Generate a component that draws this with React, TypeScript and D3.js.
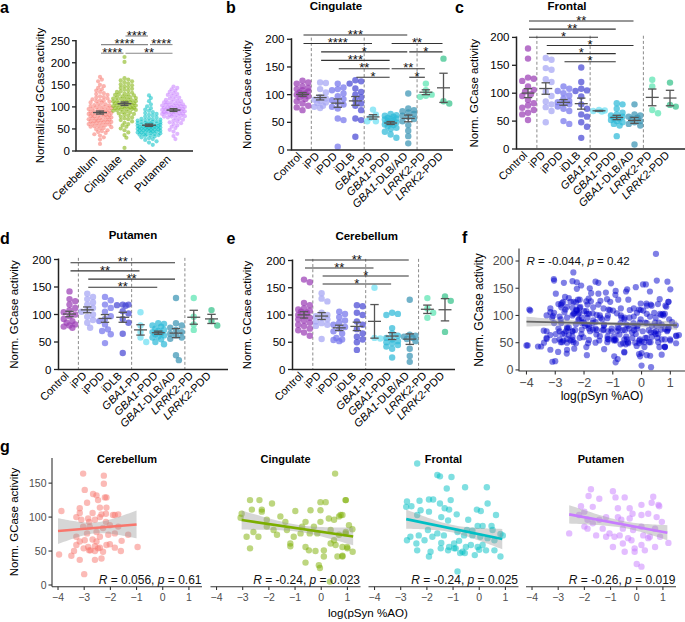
import React from 'react';
import * as d3 from 'd3';

const FONT = "'Liberation Sans', Arial, Helvetica, sans-serif";

/* ================= panel a data ================= */
const regionNames = ['Cerebellum', 'Cingulate', 'Frontal', 'Putamen'];
const regionColors = ['#F8766D', '#7CAE00', '#00BFC4', '#C77CFF'];
const aCerebellum = [168, 162, 158, 150, 147, 143, 140, 137, 134, 131, 129, 127, 124, 122, 121, 119, 117, 115, 114, 112, 110, 109, 107, 106, 104, 103, 101, 100, 99, 97, 96, 95, 94, 92, 91, 90, 89, 88, 87, 86, 85, 84, 83, 82, 81, 80, 79, 78, 77, 76, 75, 74, 73, 72, 71, 70, 69, 68, 67, 66, 65, 64, 63, 62, 61, 60, 59, 58, 56, 55, 54, 52, 51, 49, 47, 45, 43, 41, 38, 35, 31, 26, 16, 88, 93, 79, 84, 71, 98, 102, 66, 57, 113];
const aCingulate = [213, 202, 165, 162, 160, 158, 156, 153, 151, 149, 147, 145, 143, 141, 139, 137, 135, 134, 132, 130, 129, 127, 126, 124, 123, 121, 120, 119, 118, 116, 115, 114, 113, 112, 111, 110, 109, 108, 107, 106, 105, 104, 103, 102, 101, 100, 99, 98, 97, 96, 95, 94, 93, 92, 91, 89, 88, 87, 85, 84, 82, 80, 78, 76, 74, 72, 70, 67, 64, 61, 58, 55, 51, 47, 42, 36, 30, 7, 111, 117, 103, 108, 98, 122, 128, 95];
const aFrontal = [126, 120, 113, 106, 101, 97, 94, 91, 88, 86, 84, 82, 80, 78, 76, 74, 73, 72, 70, 69, 68, 67, 66, 65, 64, 63, 62, 61, 60, 60, 59, 58, 57, 57, 56, 55, 55, 54, 53, 53, 52, 51, 51, 50, 49, 49, 48, 47, 46, 46, 45, 44, 43, 42, 42, 41, 40, 39, 38, 37, 36, 35, 34, 33, 31, 29, 27, 25, 22, 19, 14, 56, 59, 62, 48, 52, 44, 66, 71, 38];
const aPutamen = [146, 143, 140, 137, 134, 131, 129, 127, 125, 123, 121, 119, 117, 116, 114, 113, 111, 110, 108, 107, 106, 105, 104, 103, 102, 101, 100, 99, 98, 97, 96, 95, 94, 93, 92, 91, 90, 89, 88, 87, 86, 85, 84, 83, 82, 81, 80, 79, 78, 76, 75, 73, 71, 69, 67, 65, 63, 61, 58, 55, 52, 48, 44, 39, 34, 27, 95, 99, 88, 92, 103, 85, 110, 78];
const aTicks = [0, 50, 100, 150, 200, 250];
const aSig = [
  { a: 1, b: 2, stars: '****', row: 0 },
  { a: 0, b: 2, stars: '****', row: 1 },
  { a: 2, b: 3, stars: '****', row: 1 },
  { a: 0, b: 1, stars: '****', row: 2 },
  { a: 1, b: 3, stars: '**', row: 2 },
];

/* ================= panels b-e data ================= */
const groupNames = ['Control', 'iPD', 'iPDD', 'iDLB', 'GBA1-PD', 'GBA1-PDD', 'GBA1-DLB/AD', 'LRRK2-PD', 'LRRK2-PDD'];
const groupColors = ['#9B3FB5', '#A5A5F4', '#7474EC', '#4848D4', '#6EDFF2', '#2FBAD8', '#3A94B4', '#5AE4B2', '#36C28A'];
const groupTicks = [0, 50, 100, 150, 200];
const separatorsAfter = [0, 3, 6];

const cingulateGroups = [
  [125, 122, 120, 115, 112, 110, 108, 106, 104, 102, 100, 99, 97, 95, 92, 88, 84, 80, 77, 72],
  [122, 121, 110, 104, 96, 93, 91, 89, 86, 85, 80, 78, 76],
  [120, 113, 110, 108, 102, 97, 92, 90, 86, 82, 78, 75, 57, 54, 6],
  [126, 124, 120, 111, 105, 100, 95, 90, 84, 80, 72, 57, 54, 24],
  [73, 64, 58, 52, 52],
  [65, 63, 62, 60, 58, 57, 56, 55, 54, 52, 50, 48, 46, 45, 43, 40, 38, 33, 28, 22],
  [102, 75, 72, 70, 68, 65, 62, 60, 56, 52, 45, 35, 25, 12],
  [120, 108, 100, 98, 96],
  [165, 88, 84],
];
const frontalGroups = [
  [180, 162, 128, 126, 122, 112, 106, 103, 98, 95, 88, 82, 78, 74, 70, 65, 62, 52],
  [163, 160, 145, 142, 125, 120, 103, 95, 85, 80, 75, 68, 48],
  [112, 108, 104, 100, 96, 90, 86, 84, 82, 80, 76, 72, 68, 50, 45],
  [146, 120, 108, 105, 104, 94, 80, 72, 62, 58, 48, 40, 20],
  [70, 69, 68, 67],
  [82, 80, 72, 65, 62, 60, 58, 55, 54, 52, 50, 48, 45, 42, 23],
  [80, 62, 60, 58, 56, 54, 50, 48, 45, 42, 8],
  [124, 112, 70, 64],
  [119, 79, 76],
];
const putamenGroups = [
  [142, 128, 124, 118, 112, 108, 104, 100, 97, 92, 88, 85, 82, 80, 78, 76],
  [138, 132, 128, 122, 118, 112, 108, 105, 100, 96, 90, 85, 76],
  [132, 126, 118, 112, 105, 97, 92, 88, 82, 73, 70, 64, 48],
  [118, 118, 117, 116, 106, 102, 92, 85, 65, 30],
  [104, 80, 68, 58, 50],
  [84, 83, 80, 78, 74, 72, 70, 68, 66, 64, 62, 60, 58, 55, 50, 46],
  [130, 84, 80, 76, 72, 68, 65, 62, 58, 56, 26, 17],
  [130, 96, 82, 72],
  [108, 88, 80],
];
const cerebellumGroups = [
  [165, 160, 122, 118, 112, 110, 108, 106, 104, 100, 98, 95, 92, 90, 86, 82, 80, 75, 72, 68, 62],
  [140, 130, 125, 104, 100, 98, 95, 92, 88, 85, 82, 80, 56],
  [106, 102, 96, 90, 86, 82, 78, 75, 70, 66, 58, 55, 54, 52],
  [118, 116, 104, 100, 88, 82, 74, 66, 60, 55, 50, 36],
  [150, 58, 57],
  [104, 102, 100, 76, 66, 62, 58, 55, 52, 50, 48, 45, 42, 38, 22],
  [128, 64, 62, 60, 58, 56, 52, 38, 25, 14],
  [131, 112, 104, 95],
  [134, 126, 69],
];
const cingulateSig = [
  { a: 0, b: 6, stars: '***', row: 0 },
  { a: 0, b: 4, stars: '****', row: 1 },
  { a: 5, b: 8, stars: '**', row: 1 },
  { a: 1, b: 6, stars: '*', row: 2 },
  { a: 6, b: 8, stars: '*', row: 2 },
  { a: 1, b: 5, stars: '***', row: 3 },
  { a: 2, b: 5, stars: '**', row: 4 },
  { a: 5, b: 7, stars: '**', row: 4 },
  { a: 3, b: 5, stars: '*', row: 5 },
  { a: 6, b: 7, stars: '*', row: 5 },
];
const frontalSig = [
  { a: 0, b: 6, stars: '**', row: 0 },
  { a: 0, b: 5, stars: '**', row: 1 },
  { a: 0, b: 4, stars: '*', row: 2 },
  { a: 1, b: 6, stars: '*', row: 3 },
  { a: 1, b: 5, stars: '*', row: 4 },
  { a: 2, b: 5, stars: '*', row: 5 },
];
const putamenSig = [
  { a: 0, b: 6, stars: '**', row: 0 },
  { a: 0, b: 4, stars: '**', row: 1 },
  { a: 1, b: 6, stars: '**', row: 2 },
  { a: 1, b: 5, stars: '**', row: 3 },
];
const cerebellumSig = [
  { a: 0, b: 6, stars: '**', row: 0 },
  { a: 0, b: 4, stars: '**', row: 1 },
  { a: 1, b: 6, stars: '*', row: 2 },
  { a: 1, b: 5, stars: '*', row: 3 },
];

/* ================= panels f-g data (x = log pSyn %AO, y = norm. GCase) ================= */
const gCerebellum = [
  [-3.04, 164], [-2.25, 161], [-2.25, 149], [-2.98, 140], [-2.66, 134], [-2.53, 132], [-2.47, 125], [-2.21, 129], [-2.15, 129], [-2.89, 121],
  [-3.17, 113], [-3.87, 109], [-2.40, 114], [-2.15, 114], [-3.17, 106], [-2.68, 106], [-2.34, 104], [-2.17, 105], [-1.83, 103], [-2.85, 98],
  [-2.59, 96], [-2.40, 100], [-1.9, 103], [-1.7, 104], [-3.3, 100], [-3.04, 86], [-2.89, 76], [-2.79, 86], [-2.53, 78], [-2.28, 84],
  [-2.02, 88], [-1.7, 86], [-1.32, 74], [-3.3, 71], [-3.17, 64], [-2.98, 66], [-2.68, 67], [-2.53, 64], [-2.40, 71], [-2.08, 74],
  [-1.83, 76], [-1.57, 65], [-3.3, 59], [-2.85, 56], [-2.59, 57], [-2.47, 54], [-2.15, 59], [-1.83, 55], [-3.39, 50], [-2.76, 51],
  [-2.59, 50], [-2.40, 55], [-1.6, 50], [-0.96, 56], [-3.96, 45], [-3.49, 43], [-3.17, 37], [-2.59, 37], [-2.34, 39], [-3.0, 16],
  [-2.81, 93], [-3.11, 96], [-2.02, 60], [-2.28, 49], [-3.02, 54], [-2.17, 93], [-2.81, 51],
];
const gCingulate = [
  [0.53, 164], [-2.72, 125], [-2.36, 125], [-3.04, 105], [-3.08, 99], [-2.85, 71], [-2.65, 111], [-2.27, 111], [-2.27, 108], [-1.88, 120],
  [-2.08, 96], [-1.82, 81], [-2.4, 71], [-2.72, 54], [-1.37, 93], [-0.99, 109], [-1.18, 61], [-1.18, 57], [-0.73, 86], [-0.6, 93],
  [-0.41, 110], [-0.44, 76], [-0.6, 56], [-0.22, 50], [-0.03, 122], [0.17, 122], [-0.03, 110], [-0.03, 93], [-0.15, 76], [-0.47, 51],
  [0.1, 51], [0.1, 42], [-0.09, 29], [-0.6, 33], [-0.05, 25], [0.33, 5], [0.36, 61], [0.29, 98], [0.49, 96], [0.68, 101],
  [0.74, 103], [0.68, 74], [0.55, 59], [0.62, 42], [0.94, 125], [1.06, 88], [0.94, 78], [1.0, 54], [0.81, 43], [-1.56, 101],
  [-2.08, 86], [-2.59, 78], [-1.69, 74], [-1.05, 71], [-0.79, 76], [-0.28, 86], [0.36, 81], [0.49, 66], [-1.31, 81], [0.93, 125],
  [0.81, 103], [1.19, 82], [0.93, 76], [0.81, 56], [0.99, 56], [1.2, 49], [0.81, 42],
];
const gFrontal = [
  [-2.37, 179], [-1.6, 162], [-1.5, 160], [-1.06, 159], [-1.24, 142], [-0.54, 144], [0.29, 144], [-2.76, 123], [-2.28, 124], [-1.92, 126],
  [-1.76, 126], [-1.5, 120], [-1.09, 125], [-2.79, 115], [-2.24, 110], [-1.92, 108], [-1.32, 113], [-0.86, 104], [0.32, 120], [-0.09, 111],
  [0.06, 109], [0.64, 103], [-1.15, 111], [-2.37, 103], [-1.45, 100], [-1.19, 95], [-0.42, 96], [-0.06, 87], [0.13, 87], [0.47, 87],
  [0.81, 75], [-2.63, 71], [-2.76, 66], [-2.31, 73], [-1.96, 81], [-1.79, 71], [-1.6, 76], [-1.35, 73], [-0.83, 78], [-0.77, 65],
  [-0.58, 73], [-0.26, 80], [-0.26, 73], [0.04, 71], [0.32, 69], [0.58, 66], [-2.4, 61], [-2.09, 66], [-1.45, 62], [-1.15, 56],
  [-0.9, 54], [-0.64, 49], [-0.51, 56], [-0.32, 59], [-0.06, 56], [0.13, 59], [0.58, 51], [-2.37, 51], [-1.86, 49], [-1.47, 54],
  [-1.19, 51], [-0.96, 54], [-0.73, 47], [-0.55, 47], [-0.17, 44], [0.26, 51], [0.81, 42], [-1.92, 42], [0.0, 52], [-0.83, 20],
  [0.51, 81], [0.9, 73], [-0.47, 81], [-0.96, 61], [-2.59, 116],
];
const gPutamen = [
  [-1.75, 141], [-0.91, 138], [-0.81, 129], [-0.46, 129], [0.63, 130], [-1.84, 131], [-1.43, 127], [-2.13, 116], [-1.68, 115], [-2.0, 108],
  [-0.72, 113], [-0.27, 113], [0.18, 118], [0.57, 121], [0.83, 118], [0.86, 116], [-2.2, 103], [-1.88, 96], [-1.43, 96], [-1.17, 100],
  [-0.72, 100], [-0.16, 105], [-0.27, 98], [0.18, 103], [0.44, 105], [0.76, 100], [0.96, 93], [-2.58, 76], [-1.88, 83], [-1.68, 91],
  [-1.3, 83], [-1.04, 76], [-0.59, 96], [-0.53, 83], [-0.14, 81], [0.18, 86], [0.7, 83], [0.89, 71], [1.21, 62], [-1.55, 73],
  [-0.85, 71], [-0.33, 69], [-0.2, 66], [0.25, 73], [0.44, 69], [0.7, 56], [-0.91, 56], [-0.53, 61], [-0.08, 54], [0.18, 59],
  [0.31, 51], [0.0, 31], [0.18, 27], [-0.46, 49], [-0.08, 49], [-2.0, 86], [-1.17, 71], [-0.65, 73], [0.5, 71],
];
const fExtra = [
  [-3.9, 111], [-4.0, 45], [-3.6, 43], [-3.4, 72], [-3.1, 15], [-3.05, 167], [-2.7, 160], [-2.4, 163], [-2.1, 155], [-1.8, 150],
  [-1.5, 140], [-1.2, 130], [-0.9, 145], [-0.5, 148], [-0.2, 152], [0.0, 8], [0.05, 157], [0.15, 157], [0.5, 213], [0.9, 162],
  [1.0, 148], [1.2, 63], [1.3, 64], [-0.9, 14], [-0.95, 25], [-0.6, 32], [-2.9, 33], [-2.6, 30], [-1.9, 27], [-1.3, 38],
  [0.3, 26], [0.7, 28], [-3.3, 57], [-2.2, 92], [-1.6, 88], [-0.7, 96], [0.6, 87], [-2.8, 120], [-1.1, 110], [0.35, 118],
];
const gSets = [gCerebellum, gCingulate, gFrontal, gPutamen];
const gFits = [
  { x0: -4.0, x1: -1.0, y0: 79.4, y1: 89.2, w0: 19, w1: 20.5, wm: 8 },
  { x0: -3.04, x1: 1.22, y0: 95.6, y1: 71.5, w0: 14, w1: 13, wm: 5 },
  { x0: -2.79, x1: 0.88, y0: 97, y1: 67.6, w0: 14, w1: 15, wm: 5.5 },
  { x0: -2.58, x1: 1.17, y0: 104, y1: 77, w0: 13.5, w1: 11, wm: 5 },
];
const gStats = [['0.056', '0.61'], ['-0.24', '0.023'], ['-0.24', '0.025'], ['-0.26', '0.019']];
const fFit = { x0: -4.0, x1: 1.23, y0: 88.6, y1: 82, w0: 9, w1: 8.5, wm: 3 };
const fStats = ['-0.044', '0.42'];
const logTicks = [-4, -3, -2, -1, 0, 1];
const fYTicks = [0, 50, 100, 150, 200];
const gYTicks = [0, 50, 100, 150];

/* ================= helpers ================= */
function swarm(values, yPos, r, maxW, minD) {
  const pts = values.map((v) => ({ v, y: yPos(v), dx: 0 })).sort((a, b) => a.y - b.y);
  const placed = [];
  const step = r * 0.9;
  const nSteps = Math.max(1, Math.floor(maxW / step));
  for (const p of pts) {
    let best = 0;
    let bestScore = -Infinity;
    for (let k = 0; k <= nSteps * 2; k++) {
      const cand = k === 0 ? 0 : (k % 2 === 1 ? 1 : -1) * Math.ceil(k / 2) * step;
      let md = Infinity;
      for (const q of placed) {
        const d = Math.hypot(q.dx - cand, q.y - p.y);
        if (d < md) md = d;
      }
      if (md >= minD) { best = cand; break; }
      if (md > bestScore) { bestScore = md; best = cand; }
    }
    p.dx = best;
    placed.push(p);
  }
  return placed;
}

function meanSem(values) {
  const m = d3.mean(values);
  const sd = d3.deviation(values) || 0;
  return { m, se: sd / Math.sqrt(values.length) };
}

function MeanSem({ values, cx, y, color, hw, cap, sw }) {
  const { m, se } = meanSem(values);
  return (
    <g stroke={color} strokeWidth={sw} fill="none">
      <line x1={cx - hw} x2={cx + hw} y1={y(m)} y2={y(m)} />
      <line x1={cx} x2={cx} y1={y(m - se)} y2={y(m + se)} />
      <line x1={cx - cap} x2={cx + cap} y1={y(m - se)} y2={y(m - se)} />
      <line x1={cx - cap} x2={cx + cap} y1={y(m + se)} y2={y(m + se)} />
    </g>
  );
}

function SigBars({ sig, xPos, top, step, color }) {
  return (
    <g>
      {sig.map((s, i) => {
        const yy = top + s.row * step;
        const x1 = xPos(s.a) + 1;
        const x2 = xPos(s.b) - 1;
        return (
          <g key={i}>
            <line x1={x1} x2={x2} y1={yy} y2={yy} stroke={color} strokeWidth={1.1} />
            <text x={(x1 + x2) / 2} y={yy + 3.6} textAnchor="middle" fontSize={13} fill="#111">{s.stars}</text>
          </g>
        );
      })}
    </g>
  );
}

function GroupLabel({ name }) {
  const gene = name.startsWith('GBA1') ? 'GBA1' : name.startsWith('LRRK2') ? 'LRRK2' : null;
  if (!gene) return <>{name}</>;
  return (<><tspan fontStyle="italic">{gene}</tspan>{name.slice(gene.length)}</>);
}

/* ================= panel a ================= */
function PanelA() {
  const x = d3.scalePoint().domain(regionNames).range([100, 173.5]);
  const y = d3.scaleLinear().domain([0, 250]).range([151, 40.7]);
  const sets = [aCerebellum, aCingulate, aFrontal, aPutamen];
  const axX = 76;
  return (
    <g>
      <text x={0} y={13.3} fontSize={16} fontWeight="bold">a</text>
      {sets.map((vals, i) => {
        const cx = x(regionNames[i]);
        const pts = swarm(vals, y, 2.1, 11.5, 3.1);
        return (
          <g key={i}>
            {pts.map((p, j) => (
              <circle key={j} cx={cx + p.dx} cy={p.y} r={2.1} fill={regionColors[i]} fillOpacity={0.55} />
            ))}
          </g>
        );
      })}
      {sets.map((vals, i) => (
        <MeanSem key={i} values={vals} cx={x(regionNames[i])} y={y} color="#555" hw={7} cap={4} sw={1.4} />
      ))}
      <path d={`M${axX},40 V151 H193`} fill="none" stroke="#222" strokeWidth={1.5} />
      {aTicks.map((t) => (
        <g key={t}>
          <line x1={axX - 4} x2={axX} y1={y(t)} y2={y(t)} stroke="#222" strokeWidth={1.3} />
          <text x={axX - 6} y={y(t) + 4} textAnchor="end" fontSize={11.5}>{t}</text>
        </g>
      ))}
      {regionNames.map((r) => (
        <text key={r} transform={`translate(${x(r) - 2},160) rotate(-45)`} textAnchor="end" fontSize={11.5}>{r}</text>
      ))}
      <text transform="translate(44,95.5) rotate(-90)" textAnchor="middle" fontSize={11.5}>Normalized GCase activity</text>
      <SigBars sig={aSig} xPos={(i) => x(regionNames[i])} top={36} step={8.6} color="#888" />
    </g>
  );
}

/* ================= panels b-e ================= */
function GroupPanel({ data, sig, axX, xEnd, cx0, cx1, y0, y200, sigTop, sigStep, title, titleX, titleY, letter, letterX, letterY, yTitleX }) {
  const x = d3.scalePoint().domain(groupNames).range([cx0, cx1]);
  const y = d3.scaleLinear().domain([0, 200]).range([y0, y200]);
  const xi = (i) => x(groupNames[i]);
  return (
    <g>
      <text x={letterX} y={letterY} fontSize={16} fontWeight="bold">{letter}</text>
      <text x={titleX} y={titleY} textAnchor="middle" fontSize={11.5} fontWeight="bold">{title}</text>
      {separatorsAfter.map((k) => {
        const sx = (xi(k) + xi(k + 1)) / 2;
        return <line key={k} x1={sx} x2={sx} y1={y(203)} y2={y0} stroke="#8a8a8a" strokeWidth={1} strokeDasharray="3,2.2" />;
      })}
      {data.map((vals, i) => {
        const pts = swarm(vals, y, 3.2, 8, 5.4);
        return (
          <g key={i}>
            {pts.map((p, j) => (
              <circle key={j} cx={xi(i) + p.dx} cy={p.y} r={3.2} fill={groupColors[i]} fillOpacity={0.72} />
            ))}
          </g>
        );
      })}
      {data.map((vals, i) => (
        <MeanSem key={i} values={vals} cx={xi(i)} y={y} color="#555" hw={6.5} cap={4.2} sw={1.3} />
      ))}
      <path d={`M${axX},${y200 - 1} V${y0} H${xEnd}`} fill="none" stroke="#222" strokeWidth={1.5} />
      {groupTicks.map((t) => (
        <g key={t}>
          <line x1={axX - 4.5} x2={axX} y1={y(t)} y2={y(t)} stroke="#222" strokeWidth={1.3} />
          <text x={axX - 7} y={y(t) + 4} textAnchor="end" fontSize={11.5}>{t}</text>
        </g>
      ))}
      {groupNames.map((g, i) => (
        <text key={g} transform={`translate(${xi(i)},${y0 + 7}) rotate(-45)`} textAnchor="end" fontSize={11}>
          <GroupLabel name={g} />
        </text>
      ))}
      <text transform={`translate(${yTitleX},${(y0 + y200) / 2}) rotate(-90)`} textAnchor="middle" fontSize={11.5}>Norm. GCase activity</text>
      <SigBars sig={sig} xPos={xi} top={sigTop} step={sigStep} color="#333" />
    </g>
  );
}

/* ================= regression band ================= */
function fitGeom(fit, xs, ys) {
  const a = Math.sqrt(Math.max(fit.w0 * fit.w0 - fit.wm * fit.wm, 0));
  const b = Math.sqrt(Math.max(fit.w1 * fit.w1 - fit.wm * fit.wm, 0));
  const sk = (a + b) / (fit.x1 - fit.x0);
  const xm = fit.x0 + a / sk;
  const lineY = (v) => fit.y0 + (fit.y1 - fit.y0) * (v - fit.x0) / (fit.x1 - fit.x0);
  const hw = (v) => Math.sqrt(fit.wm * fit.wm + sk * sk * (v - xm) * (v - xm));
  const samples = d3.range(41).map((i) => fit.x0 + (fit.x1 - fit.x0) * i / 40);
  const area = d3.area().x((v) => xs(v)).y0((v) => ys(lineY(v) - hw(v))).y1((v) => ys(lineY(v) + hw(v)));
  return {
    area: area(samples),
    x1: xs(fit.x0), y1: ys(lineY(fit.x0)), x2: xs(fit.x1), y2: ys(lineY(fit.x1)),
  };
}

const fmtTick = (t) => (t < 0 ? '\u2212' + Math.abs(t) : String(t));

function Stat({ r, p }) {
  return (
    <>
      <tspan fontStyle="italic">R</tspan>{` = ${r}, `}<tspan fontStyle="italic">p</tspan>{` = ${p}`}
    </>
  );
}

/* ================= panel f ================= */
function PanelF() {
  const xs = d3.scaleLinear().domain([-4.26, 1.51]).range([519, 685]);
  const ys = d3.scaleLinear().domain([-2, 223]).range([371, 248.5]);
  const all = [...gCerebellum, ...gCingulate, ...gFrontal, ...gPutamen, ...fExtra];
  const fg = fitGeom(fFit, xs, ys);
  return (
    <g>
      <text x={462} y={243.3} fontSize={16} fontWeight="bold">f</text>
      {all.map((d, i) => (
        <circle key={i} cx={xs(d[0])} cy={ys(d[1])} r={3.1} fill="#0000CD" fillOpacity={0.5} />
      ))}
      <path d={fg.area} fill="#999" fillOpacity={0.4} />
      <line x1={fg.x1} y1={fg.y1} x2={fg.x2} y2={fg.y2} stroke="#666" strokeWidth={1.9} />
      <path d={`M519,248.5 V371 H685`} fill="none" stroke="#333" strokeWidth={1.1} />
      {fYTicks.map((t) => (
        <g key={t}>
          <line x1={515.5} x2={519} y1={ys(t)} y2={ys(t)} stroke="#333" strokeWidth={1.1} />
          <text x={513.5} y={ys(t) + 4.4} textAnchor="end" fontSize={12.5} fill="#4D4D4D">{t}</text>
        </g>
      ))}
      {logTicks.map((t) => (
        <g key={t}>
          <line x1={xs(t)} x2={xs(t)} y1={371} y2={374.5} stroke="#333" strokeWidth={1.1} />
          <text x={xs(t)} y={386.5} textAnchor="middle" fontSize={12.5} fill="#4D4D4D">{fmtTick(t)}</text>
        </g>
      ))}
      <text x={526.5} y={265} fontSize={11.6} fill="#111"><Stat r={fStats[0]} p={fStats[1]} /></text>
      <text x={602} y={400} textAnchor="middle" fontSize={12}>log(pSyn %AO)</text>
      <text transform="translate(482.5,310) rotate(-90)" textAnchor="middle" fontSize={12}>Norm. GCase activity</text>
    </g>
  );
}

/* ================= panel g ================= */
function PanelG() {
  const lefts = [52, 210.5, 368.5, 526];
  const pw = 150;
  const ys = d3.scaleLinear().domain([-2.5, 187]).range([586.7, 458]);
  return (
    <g>
      <text x={0} y={451.5} fontSize={16} fontWeight="bold">g</text>
      {regionNames.map((reg, i) => {
        const xs = d3.scaleLinear().domain([-4.23, 1.5]).range([lefts[i], lefts[i] + pw]);
        const fg = fitGeom(gFits[i], xs, ys);
        return (
          <g key={reg}>
            {gSets[i].map((d, j) => (
              <circle key={j} cx={xs(d[0])} cy={ys(d[1])} r={3.2} fill={regionColors[i]} fillOpacity={0.5} />
            ))}
            <path d={fg.area} fill="#999" fillOpacity={0.4} />
            <line x1={fg.x1} y1={fg.y1} x2={fg.x2} y2={fg.y2} stroke={regionColors[i]} strokeWidth={2.6} />
            <line x1={lefts[i]} x2={lefts[i] + pw} y1={586.7} y2={586.7} stroke="#333" strokeWidth={1.1} />
            {logTicks.map((t) => (
              <g key={t}>
                <line x1={xs(t)} x2={xs(t)} y1={586.7} y2={590} stroke="#333" strokeWidth={1.1} />
                <text x={xs(t)} y={600.5} textAnchor="middle" fontSize={10.5} fill="#4D4D4D">{fmtTick(t)}</text>
              </g>
            ))}
            <text x={lefts[i] + pw / 2} y={463} textAnchor="middle" fontSize={11} fontWeight="bold">{reg}</text>
            <text x={lefts[i] + pw - 0.5} y={584} textAnchor="end" fontSize={12} fill="#111"><Stat r={gStats[i][0]} p={gStats[i][1]} /></text>
          </g>
        );
      })}
      <line x1={52} x2={52} y1={458} y2={586.7} stroke="#333" strokeWidth={1.1} />
      {gYTicks.map((t) => (
        <g key={t}>
          <line x1={48.5} x2={52} y1={ys(t)} y2={ys(t)} stroke="#333" strokeWidth={1.1} />
          <text x={46.5} y={ys(t) + 3.8} textAnchor="end" fontSize={10.5} fill="#4D4D4D">{t}</text>
        </g>
      ))}
      <text x={368} y={617} textAnchor="middle" fontSize={11.6}>log(pSyn %AO)</text>
      <text transform="translate(18,522) rotate(-90)" textAnchor="middle" fontSize={11.5}>Norm. GCase activity</text>
    </g>
  );
}

export default function App() {
  return (
    <div style={{ position: 'absolute', left: 0, top: 0 }}>
      <svg width={685} height={622} style={{ display: 'block', fontFamily: FONT }}>
        <rect width={685} height={622} fill="#fff" />
        <PanelA />
        <GroupPanel data={cingulateGroups} sig={cingulateSig} axX={291.5} xEnd={453} cx0={302.5} cx1={443.5} y0={150} y200={39.3}
          sigTop={35} sigStep={8.45} title="Cingulate" titleX={336} titleY={10} letter="b" letterX={226} letterY={13.3} yTitleX={251} />
        <GroupPanel data={frontalGroups} sig={frontalSig} axX={516.5} xEnd={685} cx0={528} cx1={670} y0={149} y200={37.4}
          sigTop={21} sigStep={8.15} title="Frontal" titleX={567} titleY={9.5} letter="c" letterX={455} letterY={12.7} yTitleX={477.5} />
        <GroupPanel data={putamenGroups} sig={putamenSig} axX={58.5} xEnd={228} cx0={69.5} cx1={211.5} y0={369.5} y200={259.5}
          sigTop={262.7} sigStep={8.2} title="Putamen" titleX={133} titleY={239} letter="d" letterX={0} letterY={244.3} yTitleX={17.5} />
        <GroupPanel data={cerebellumGroups} sig={cerebellumSig} axX={292.5} xEnd={455} cx0={304} cx1={445} y0={369.5} y200={260.5}
          sigTop={260} sigStep={8} title="Cerebellum" titleX={366.7} titleY={240} letter="e" letterX={226.5} letterY={244.3} yTitleX={251} />
        <PanelF />
        <PanelG />
      </svg>
    </div>
  );
}
